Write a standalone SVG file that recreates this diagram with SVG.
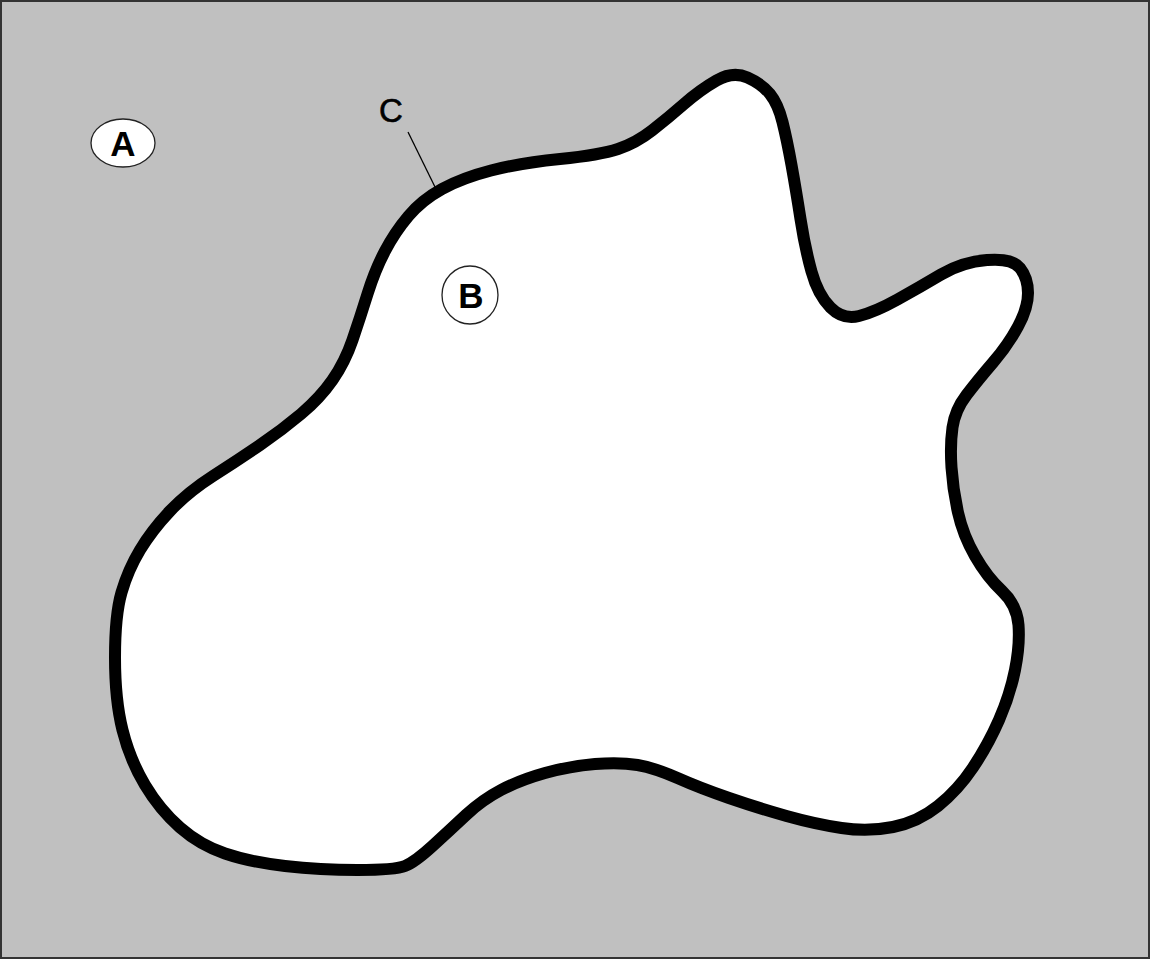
<svg xmlns="http://www.w3.org/2000/svg" width="1151" height="960" viewBox="0 0 1151 960">
<style>
.lbl{font-family:"Liberation Sans",Arial,sans-serif;font-weight:bold;font-size:35px;fill:#000;text-anchor:middle}
.tag{fill:#fff;stroke:#222;stroke-width:1.3}
</style>
<rect x="1" y="1" width="1148" height="957" fill="#c0c0c0" stroke="#333" stroke-width="2"/>
<g id="region">
<path d="M716.5,80.5 Q733,71 747.5,77.5 Q762,84 770,94 Q778,104 782.5,122 Q787,140 791.5,165 Q796,190 800.5,219 Q805,248 811.5,271.5 Q818,295 830.5,307.5 Q843,320 859,316 Q875,312 897.5,299.5 Q920,287 941,274.5 Q962,262 987,260 Q1012,258 1020,268 Q1028,278 1028,293 Q1028,308 1018,326.5 Q1008,345 993,362.5 Q978,380 966.5,395 Q955,410 952.5,427.5 Q950,445 951.5,467.5 Q953,490 958,512.5 Q963,535 975,556 Q987,577 1002,591 Q1017,605 1018.5,625 Q1020,645 1015,670 Q1010,695 999,720 Q988,745 973,767.5 Q958,790 938,806 Q918,822 893,827 Q868,832 841.5,828 Q815,824 786.5,816 Q758,808 729,798 Q700,788 677.5,778 Q655,768 637.5,765 Q620,762 595,764 Q570,766 545,773 Q520,780 501,790 Q482,800 466,815 Q450,830 432.5,846 Q415,862 405,866 Q395,870 357.5,870 Q320,870 285,866 Q250,862 225,853.5 Q200,845 180,827.5 Q160,810 145,785 Q130,760 122.5,730 Q115,700 115,657.5 Q115,615 121.5,592.5 Q128,570 140,550 Q152,530 170,511 Q188,492 213,476 Q238,460 260,445 Q282,430 301,414 Q320,398 332.5,380 Q345,362 352.5,340 Q360,318 367.5,294 Q375,270 385,251 Q395,232 408.5,216 Q422,200 442,189 Q462,178 491,170.5 Q520,163 560,159 Q600,155 618,149 Q636,143 652,130.5 Q668,118 684,104 Q700,90 716.5,80.5 Z" fill="#fff" stroke="#000" stroke-width="12" stroke-linejoin="round"/>
</g>
<g id="connectors">
<line x1="408" y1="132" x2="436" y2="189" stroke="#000" stroke-width="1.3"/>
</g>
<g id="A">
<ellipse class="tag" cx="123" cy="143" rx="32" ry="24"/>
<text class="lbl" x="123" y="156">A</text>
</g>
<g id="B">
<ellipse class="tag" cx="470" cy="295" rx="28" ry="29"/>
<text class="lbl" x="471" y="308">B</text>
</g>
<g id="C">
<text x="391" y="122" style="font-family:'Liberation Sans',Arial,sans-serif;font-size:33px;fill:#000;text-anchor:middle;stroke:#000;stroke-width:0.6">C</text>
</g>
</svg>
